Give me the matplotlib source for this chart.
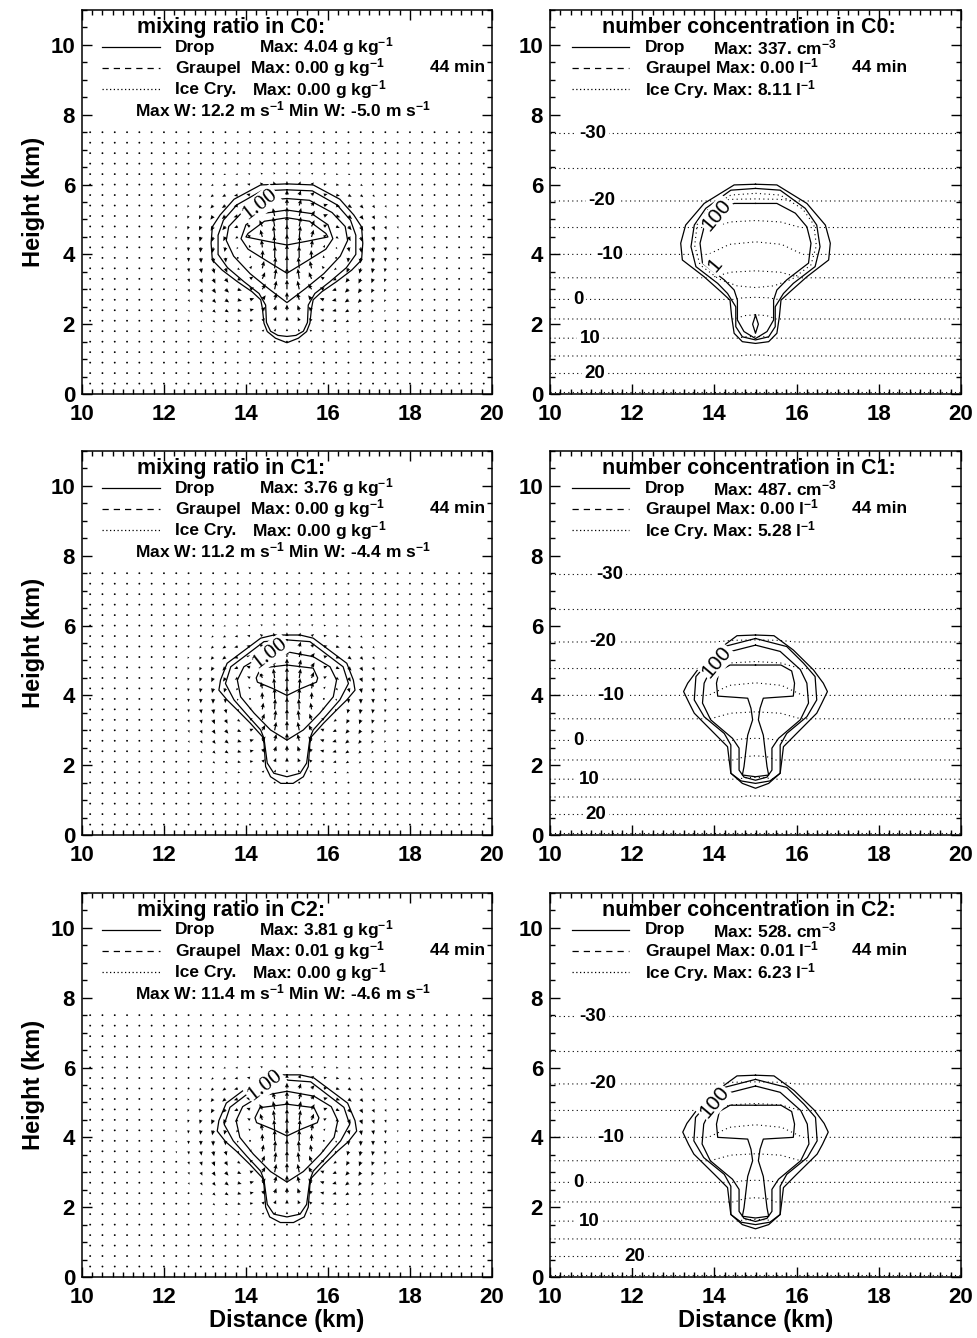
import numpy as np
import matplotlib
matplotlib.use("Agg")
import matplotlib.pyplot as plt
from matplotlib.ticker import MultipleLocator

plt.rcParams["font.family"] = ["Liberation Sans", "DejaVu Sans"]
plt.rcParams["font.weight"] = "bold"
plt.rcParams["mathtext.fontset"] = "custom"
plt.rcParams["mathtext.rm"] = "Liberation Sans:bold"
plt.rcParams["mathtext.bf"] = "Liberation Sans:bold"
plt.rcParams["mathtext.it"] = "Liberation Sans:bold:italic"
plt.rcParams["mathtext.sf"] = "Liberation Sans:bold"
plt.rcParams["mathtext.default"] = "rm"

# ---------------------------------------------------------------- data
CASES = ["C0", "C1", "C2"]
DROP_QMAX = [4.04, 3.76, 3.81]          # g kg-1
GRAUPEL_QMAX = [0.00, 0.00, 0.01]
ICE_QMAX = [0.00, 0.00, 0.00]
W_MAX = [12.2, 11.2, 11.4]              # m s-1
W_MIN = [-5.0, -4.4, -4.6]
DROP_NMAX = ["337.", "487.", "528."]    # cm-3
GRAUPEL_NMAX = [0.00, 0.00, 0.01]       # l-1
ICE_NMAX = [8.11, 5.28, 6.23]           # l-1
TIME_MIN = 44

# thermal circulation (centre, core height, radius, depth) per case
THERMAL_X0 = [15.0, 15.0, 15.0]
THERMAL_Z0 = [4.0, 3.85, 3.9]
THERMAL_A = [1.5, 1.45, 1.45]
THERMAL_B = [1.75, 1.7, 1.7]
WIND_X = np.arange(10.2, 19.85, 0.3)
WIND_Z = np.arange(0.3, 7.55, 0.3)

# drop mixing ratio contours: right half (offset from x=15 km, height km)
QC0 = [
    [(0, 6.02), (0.64, 5.99), (1.29, 5.58), (1.63, 5.13), (1.82, 4.79), (1.85, 4.32),
     (1.82, 3.84), (1.58, 3.55), (1.21, 3.22), (0.85, 2.93), (0.64, 2.70), (0.60, 2.46),
     (0.56, 2.03), (0.48, 1.79), (0.28, 1.60), (0, 1.47)],
    [(0, 5.85), (0.62, 5.82), (1.22, 5.42), (1.55, 4.98), (1.68, 4.55), (1.68, 4.0),
     (1.45, 3.62), (1.05, 3.22), (0.68, 2.88), (0.52, 2.55), (0.50, 2.05), (0.40, 1.80),
     (0.22, 1.68), (0, 1.65)],
    [(0, 5.6), (0.55, 5.55), (1.1, 5.2), (1.42, 4.8), (1.48, 4.4), (1.3, 3.95),
     (0.9, 3.45), (0.45, 3.02), (0, 2.62)],
    [(0, 5.27), (0.6, 5.17), (1.0, 4.85), (1.12, 4.45), (0.95, 4.15), (0.5, 3.82), (0, 3.46)],
    [(0, 5.05), (0.55, 4.95), (0.95, 4.6), (1.0, 4.5), (0.5, 4.38), (0, 4.27)],
]
QC1 = [
    [(0, 5.73), (0.32, 5.73), (0.64, 5.64), (1.46, 4.92), (1.62, 4.44), (1.66, 4.15),
     (1.46, 3.87), (1.21, 3.58), (0.89, 3.2), (0.60, 2.82), (0.56, 2.63), (0.52, 1.96),
     (0.40, 1.67), (0.15, 1.48), (0, 1.48)],
    [(0, 5.59), (0.56, 5.54), (1.37, 4.82), (1.5, 4.34), (1.29, 3.87), (0.97, 3.44),
     (0.64, 3.01), (0.56, 2.77), (0.48, 2.06), (0.32, 1.77), (0, 1.67)],
    [(0, 5.25), (0.64, 5.11), (1.05, 4.82), (1.21, 4.44), (1.13, 3.96), (0.80, 3.49),
     (0.40, 3.01), (0, 2.72)],
    [(0, 4.87), (0.64, 4.78), (0.75, 4.5), (0.72, 4.38), (0.35, 4.2), (0, 4.0)],
]
QC2 = [
    [(0, 5.79), (0.32, 5.79), (0.66, 5.70), (1.48, 4.98), (1.66, 4.48), (1.70, 4.18),
     (1.50, 3.88), (1.23, 3.60), (0.90, 3.22), (0.60, 2.84), (0.56, 2.63), (0.52, 2.0),
     (0.42, 1.72), (0.16, 1.56), (0, 1.56)],
    [(0, 5.64), (0.58, 5.59), (1.39, 4.86), (1.53, 4.37), (1.31, 3.9), (0.98, 3.46),
     (0.64, 3.03), (0.56, 2.78), (0.48, 2.08), (0.32, 1.80), (0, 1.72)],
    [(0, 5.32), (0.66, 5.18), (1.08, 4.88), (1.24, 4.48), (1.15, 4.0), (0.82, 3.52),
     (0.40, 3.02), (0, 2.72)],
    [(0, 4.95), (0.66, 4.85), (0.78, 4.56), (0.74, 4.42), (0.36, 4.24), (0, 4.04)],
]
QC_LABEL_XY = [(14.34, 5.42), (14.59, 5.21), (14.46, 5.5)]

# drop number concentration contours: right half
NC0 = [
    [(0, 6.01), (0.52, 5.99), (1.25, 5.46), (1.70, 4.84), (1.82, 4.32), (1.78, 3.84),
     (1.25, 3.36), (0.84, 2.93), (0.62, 2.69), (0.58, 2.21), (0.52, 1.74), (0.32, 1.50),
     (0, 1.45)],
    [(0, 5.89), (0.6, 5.84), (1.21, 5.32), (1.49, 4.84), (1.57, 4.22), (1.45, 3.65),
     (0.92, 3.17), (0.68, 2.88), (0.48, 2.50), (0.48, 1.93), (0.32, 1.64), (0, 1.55)],
    [(0, 5.46), (0.52, 5.46), (0.97, 5.18), (1.25, 4.79), (1.35, 4.32), (1.29, 3.75),
     (0.76, 3.27), (0.52, 2.98), (0.44, 2.69), (0.44, 2.12), (0.28, 1.79), (0, 1.59)],
    [(0, 2.26), (0.07, 2.0), (0, 1.74)],
]
NC1 = [
    [(0, 5.73), (0.45, 5.71), (0.92, 5.30), (1.41, 4.73), (1.65, 4.35), (1.75, 4.11),
     (1.61, 3.77), (1.49, 3.49), (1.0, 2.91), (0.68, 2.53), (0.64, 2.14), (0.60, 1.77),
     (0.32, 1.48), (0, 1.34)],
    [(0, 5.63), (0.76, 5.4), (1.17, 4.92), (1.45, 4.54), (1.49, 3.87), (1.25, 3.39),
     (0.76, 2.91), (0.6, 2.58), (0.6, 1.77), (0.35, 1.55), (0, 1.48)],
    [(0, 5.44), (0.6, 5.26), (1.09, 4.74), (1.25, 4.35), (1.29, 3.78), (1.09, 3.30),
     (0.56, 2.77), (0.40, 2.49), (0.40, 1.86), (0.28, 1.66), (0, 1.57)],
    [(0, 4.87), (0.62, 4.87), (0.88, 4.70), (0.95, 4.35), (0.92, 3.98), (0.19, 3.92),
     (0.11, 3.63), (0.07, 3.30), (0.19, 2.86), (0.28, 1.96), (0.32, 1.72), (0, 1.67)],
]
NC2 = [
    [(0, 5.78), (0.45, 5.76), (0.94, 5.34), (1.43, 4.78), (1.67, 4.40), (1.77, 4.15),
     (1.63, 3.80), (1.50, 3.52), (1.0, 2.94), (0.68, 2.56), (0.64, 2.16), (0.60, 1.79),
     (0.32, 1.50), (0, 1.38)],
    [(0, 5.66), (0.76, 5.43), (1.18, 4.95), (1.46, 4.57), (1.50, 3.90), (1.26, 3.42),
     (0.76, 2.94), (0.6, 2.60), (0.6, 1.79), (0.35, 1.57), (0, 1.50)],
    [(0, 5.47), (0.6, 5.29), (1.10, 4.77), (1.26, 4.38), (1.30, 3.81), (1.10, 3.33),
     (0.56, 2.80), (0.40, 2.51), (0.40, 1.88), (0.28, 1.68), (0, 1.59)],
    [(0, 4.92), (0.62, 4.92), (0.88, 4.74), (0.95, 4.38), (0.92, 4.0), (0.19, 3.95),
     (0.11, 3.66), (0.07, 3.33), (0.19, 2.88), (0.28, 1.98), (0.32, 1.74), (0, 1.69)],
]
NC_LABEL_XY = [(14.06, 5.13), (14.06, 4.96), (14.0, 5.0)]
ICE_C0 = [(0, 5.75), (0.6, 5.7), (1.15, 5.3), (1.42, 4.85), (1.48, 4.25), (1.35, 3.7),
          (0.9, 3.3), (0.45, 3.1), (0, 3.05)]

# isotherms (deg C) at the domain edges, and their rise inside the cloud
ISO_T = [25, 20, 15, 10, 5, 0, -5, -10, -15, -20, -25, -30]
ISO_Z = [0.07, 0.59, 1.09, 1.60, 2.15, 2.71, 3.33, 4.00, 4.77, 5.53, 6.47, 7.47]
ISO_RISE = [0.0, 0.0, 0.03, 0.05, 0.12, 0.06, 0.2, 0.36, 0.2, 0.06, 0.0, 0.0]
ISO_HALFW = [0.4, 0.4, 0.4, 0.45, 0.5, 0.55, 1.1, 1.15, 1.1, 1.0, 0.8, 0.8]
ISO_LABEL_T = [-30, -20, -10, 0, 10, 20]
ISO_LABEL_X = [
    [11.05, 11.27, 11.46, 10.68, 10.97, 11.10],
    [11.46, 11.29, 11.48, 10.68, 10.95, 11.12],
    [11.05, 11.29, 11.48, 10.68, 10.95, 12.05],
]

QC_ROWS = [QC0, QC1, QC2]
NC_ROWS = [NC0, NC1, NC2]

# ---------------------------------------------------------------- helpers
def outline(half, x0=15.0):
    h = np.asarray(half, dtype=float)
    x = np.concatenate([x0 + h[:, 0], (x0 - h[::-1, 0])[1:]])
    z = np.concatenate([h[:, 1], h[::-1, 1][1:]])
    return x, z


def thermal_wind(i):
    X, Z = np.meshgrid(WIND_X, WIND_Z)
    s = (X - THERMAL_X0[i]) / THERMAL_A[i]
    q = (Z - THERMAL_Z0[i]) / THERMAL_B[i]
    env = np.exp(-s ** 2 - q ** 2)
    shape = (1 - 2 * s ** 2) * env
    neg_peak = -2 * np.exp(-1.5)
    w = np.where(shape > 0, W_MAX[i] * shape, W_MIN[i] * shape / neg_peak)
    u = W_MAX[i] * (THERMAL_A[i] / THERMAL_B[i]) * 2 * s * q * env
    return X, Z, u, w


def style_axes(ax, bottom_label):
    ax.set_xlim(10, 20)
    ax.set_ylim(0, 11)
    ax.xaxis.set_major_locator(MultipleLocator(2))
    ax.xaxis.set_minor_locator(MultipleLocator(0.25))
    ax.yaxis.set_major_locator(MultipleLocator(2))
    ax.yaxis.set_minor_locator(MultipleLocator(0.5))
    ax.tick_params(which="both", direction="in", top=True, right=True,
                   labelsize=16, width=1.0)
    ax.tick_params(which="major", length=7, pad=7)
    ax.tick_params(which="minor", length=3.5)
    ax.tick_params(axis="y", which="major", pad=5)
    for sp in ax.spines.values():
        sp.set_linewidth(1.1)
    for lab in ax.get_xticklabels() + ax.get_yticklabels():
        lab.set_fontweight("bold")
    if bottom_label:
        ax.set_xlabel("Distance (km)", fontsize=17, fontweight="bold", labelpad=1)


SAMPLE_STYLES = ["-", (0, (5, 4)), (0, (1, 2))]
ROW_Z = [9.94, 9.34, 8.73]
TXT = 12.5
TITLE = 15.5
LABEL_BOX = dict(boxstyle="square,pad=0.05", fc="white", ec="none")

fig = plt.figure(figsize=(9.78, 13.38), dpi=100)
bottoms = [0.7055, 0.3759, 0.0456]
for i in range(3):
    axl = fig.add_axes([0.0838, bottoms[i], 0.4192, 0.287])
    axr = fig.add_axes([0.5624, bottoms[i], 0.4202, 0.287])

    # ---- left: wind vectors and drop mixing ratio
    X, Z, u, w = thermal_wind(i)
    axl.quiver(X, Z, u, w, angles="uv", units="dots", scale_units="dots",
               scale=0.9, width=1.2, headwidth=3.5, headlength=4,
               headaxislength=3.5, minlength=1.7, minshaft=1, color="black")
    for half in QC_ROWS[i]:
        x, z = outline(half)
        axl.plot(x, z, color="black", lw=0.9)
    lx, lz = QC_LABEL_XY[i]
    axl.text(lx, lz, "1.00", family="Liberation Serif", fontweight="normal",
             fontsize=16, rotation=38, ha="center", va="center", bbox=LABEL_BOX)

    axl.text(11.34, 10.49, f"mixing ratio in {CASES[i]}:", fontsize=TITLE, va="center")
    for k in range(3):
        axl.plot([10.49, 11.9], [ROW_Z[k]] * 2, color="black", lw=0.9,
                 linestyle=SAMPLE_STYLES[k])
    axl.text(12.27, ROW_Z[0], "Drop", fontsize=TXT, va="center")
    axl.text(14.32, ROW_Z[0], f"Max: {DROP_QMAX[i]:.2f} g kg$^{{-1}}$",
             fontsize=TXT, va="center")
    axl.text(12.27, ROW_Z[1], f"Graupel  Max: {GRAUPEL_QMAX[i]:.2f} g kg$^{{-1}}$",
             fontsize=TXT, va="center")
    axl.text(12.27, ROW_Z[2], "Ice Cry.", fontsize=TXT, va="center")
    axl.text(14.15, ROW_Z[2], f"Max: {ICE_QMAX[i]:.2f} g kg$^{{-1}}$",
             fontsize=TXT, va="center")
    axl.text(18.5, ROW_Z[1], f"{TIME_MIN} min", fontsize=TXT, va="center")
    axl.text(11.29, 8.14,
             f"Max W: {W_MAX[i]:.1f} m s$^{{-1}}$ Min W: {W_MIN[i]:.1f} m s$^{{-1}}$",
             fontsize=TXT, va="center")
    style_axes(axl, i == 2)
    axl.set_ylabel("Height (km)", fontsize=17, fontweight="bold", labelpad=4)

    # ---- right: isotherms and drop number concentration
    for t, z0, rise, hw in zip(ISO_T, ISO_Z, ISO_RISE, ISO_HALFW):
        xs = [10.0, 15 - hw, 15 - 0.55 * hw, 15, 15 + 0.55 * hw, 15 + hw, 20.0]
        zs = [z0, z0, z0 + 0.8 * rise, z0 + rise, z0 + 0.8 * rise, z0, z0]
        axr.plot(xs, zs, color="black", lw=0.8, linestyle=(0, (1, 3)))
    for t, xl in zip(ISO_LABEL_T, ISO_LABEL_X[i]):
        zl = ISO_Z[ISO_T.index(t)]
        axr.text(xl, zl, f"{t}", fontsize=13.5, ha="center", va="center",
                 bbox=dict(boxstyle="square,pad=0.15", fc="white", ec="none"))
    if i == 0:
        x, z = outline(ICE_C0)
        axr.plot(x, z, color="black", lw=0.8, linestyle=(0, (1, 3)))
    for half in NC_ROWS[i]:
        x, z = outline(half)
        axr.plot(x, z, color="black", lw=0.9)
    nx, nz = NC_LABEL_XY[i]
    axr.text(nx, nz, "100", fontsize=15, fontweight="normal", rotation=50,
             ha="center", va="center", bbox=LABEL_BOX)
    if i == 0:
        axr.text(14.01, 3.70, "1", fontsize=15, fontweight="normal", rotation=50,
                 ha="center", va="center", bbox=LABEL_BOX)

    axr.text(11.27, 10.49, f"number concentration in {CASES[i]}:", fontsize=TITLE,
             va="center")
    for k in range(3):
        axr.plot([10.54, 11.92], [ROW_Z[k]] * 2, color="black", lw=0.9,
                 linestyle=SAMPLE_STYLES[k])
    axr.text(12.31, ROW_Z[0], "Drop", fontsize=TXT, va="center")
    axr.text(13.97, ROW_Z[0], f"Max: {DROP_NMAX[i]} cm$^{{-3}}$", fontsize=TXT,
             va="center")
    axr.text(12.31, ROW_Z[1], f"Graupel Max: {GRAUPEL_NMAX[i]:.2f} l$^{{-1}}$",
             fontsize=TXT, va="center")
    axr.text(17.35, ROW_Z[1], f"{TIME_MIN} min", fontsize=TXT, va="center")
    axr.text(12.31, ROW_Z[2], f"Ice Cry. Max: {ICE_NMAX[i]:.2f} l$^{{-1}}$",
             fontsize=TXT, va="center")
    style_axes(axr, i == 2)

fig.savefig("out.png", dpi=100)
